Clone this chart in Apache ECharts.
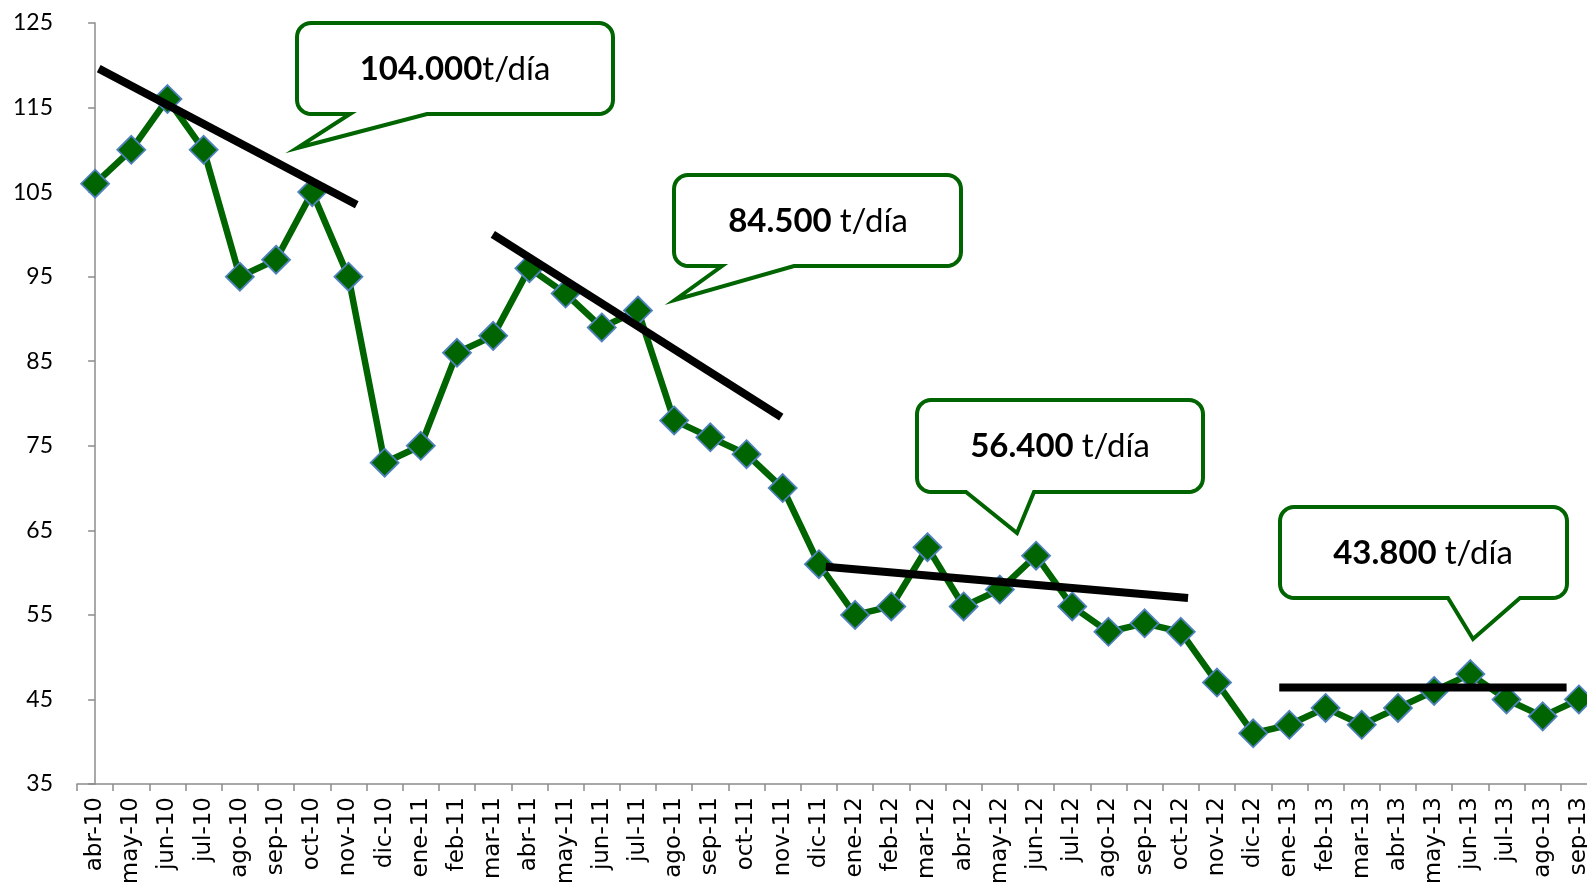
<!DOCTYPE html>
<html>
<head>
<meta charset="utf-8">
<script src="https://cdn.jsdelivr.net/npm/echarts@6/dist/echarts.min.js"></script>
<style>
  html, body { margin: 0; padding: 0; background: #fff; }
  #chart { width: 1587px; height: 882px; }
</style>
</head>
<body>
<div id="chart"></div>
<script>
  // meses (abr-10 .. sep-13)
  const months = [
    'abr-10', 'may-10', 'jun-10', 'jul-10', 'ago-10', 'sep-10', 'oct-10', 'nov-10', 'dic-10',
    'ene-11', 'feb-11', 'mar-11', 'abr-11', 'may-11', 'jun-11', 'jul-11', 'ago-11', 'sep-11', 'oct-11', 'nov-11', 'dic-11',
    'ene-12', 'feb-12', 'mar-12', 'abr-12', 'may-12', 'jun-12', 'jul-12', 'ago-12', 'sep-12', 'oct-12', 'nov-12', 'dic-12',
    'ene-13', 'feb-13', 'mar-13', 'abr-13', 'may-13', 'jun-13', 'jul-13', 'ago-13', 'sep-13'
  ];
  // produccion, miles de t/dia
  const production = [
    106, 110, 116, 110, 95, 97, 105, 95, 73,
    75, 86, 88, 96, 93, 89, 91, 78, 76, 74, 70, 61,
    55, 56, 63, 56, 58, 62, 56, 53, 54, 53, 47, 41,
    42, 44, 42, 44, 46, 48, 45, 43, 45
  ];
  const yTicks = [35, 45, 55, 65, 75, 85, 95, 105, 115, 125];

  // tendencias: [indice de mes, valor]
  const trend1 = [[0.1, 119.6], [7.23, 103.5]];
  const trend2 = [[10.99, 100.0], [18.96, 78.4]];
  const trend3 = [[20.19, 60.7], [30.2, 57.0]];
  const trend4 = [[32.72, 46.4], [40.66, 46.4]];

  const calloutBold = ['104.000', '84.500 ', '56.400 ', '43.800 '];
  const calloutUnit = 't/día';

  const green = '#006400';

  // cajas de los globos (pixeles)
  const bubbles = [
    { x0: 297, y0: 23, x1: 613, y1: 114, tl: 350, tr: 427, tip: [297, 148], tx: 455, ty: 69 },
    { x0: 674, y0: 175, x1: 961, y1: 266, tl: 722, tr: 794, tip: [675, 300], tx: 818, ty: 221 },
    { x0: 917, y0: 400, x1: 1203, y1: 492, tl: 966, tr: 1034, tip: [1017, 533], tx: 1060, ty: 446 },
    { x0: 1280, y0: 507, x1: 1567, y1: 598, tl: 1448, tr: 1520, tip: [1473, 639], tx: 1423, ty: 553 }
  ];

  function arc(cx, cy, r, a0, a1, pts) {
    for (let i = 0; i <= 8; i++) {
      const a = (a0 + (a1 - a0) * i / 8) * Math.PI / 180;
      pts.push([cx + r * Math.cos(a), cy + r * Math.sin(a)]);
    }
  }

  function bubbleShape(b) {
    const r = 14;
    const pts = [];
    arc(b.x1 - r, b.y0 + r, r, -90, 0, pts);
    arc(b.x1 - r, b.y1 - r, r, 0, 90, pts);
    pts.push([b.tr, b.y1]);
    pts.push(b.tip);
    pts.push([b.tl, b.y1]);
    arc(b.x0 + r, b.y1 - r, r, 90, 180, pts);
    arc(b.x0 + r, b.y0 + r, r, 180, 270, pts);
    return pts;
  }

  const graphics = [];
  bubbles.forEach((b, i) => {
    graphics.push({
      type: 'polygon',
      shape: { points: bubbleShape(b) },
      style: { fill: '#fff', stroke: green, lineWidth: 4 },
      z: 100
    });
    graphics.push({
      type: 'text',
      x: b.tx,
      y: b.ty,
      z: 101,
      style: {
        text: '{b|' + calloutBold[i] + '}{n|' + calloutUnit + '}',
        align: 'center',
        verticalAlign: 'middle',
        rich: {
          b: { fontFamily: 'Lato', fontWeight: 'bold', fontSize: 33, fill: '#000' },
          n: { fontFamily: 'Lato', fontSize: 33, fill: '#000' }
        }
      }
    });
  });

  function trendSeries(data) {
    return {
      type: 'line',
      xAxisIndex: 1,
      data: data,
      symbol: 'none',
      silent: true,
      z: 5,
      lineStyle: { color: '#000', width: 8, cap: 'butt' }
    };
  }

  const chart = echarts.init(document.getElementById('chart'));
  chart.setOption({
    animation: false,
    grid: { left: 77, right: -10, top: 23, bottom: 98, containLabel: false, outerBoundsMode: 'none' },
    xAxis: [{
      type: 'category',
      data: months,
      boundaryGap: true,
      axisLine: { lineStyle: { color: '#8c8c8c', width: 1.5 } },
      axisTick: { show: true, length: 7, lineStyle: { color: '#8c8c8c', width: 1.5 } },
      axisLabel: {
        interval: 0,
        rotate: 90,
        margin: 13,
        color: '#000',
        fontFamily: 'DejaVu Sans',
        fontSize: 23
      }
    }, {
      type: 'value',
      min: -0.5,
      max: 41.5,
      show: false
    }],
    yAxis: {
      type: 'value',
      min: 35,
      max: 125,
      interval: 10,
      axisLine: { show: true, lineStyle: { color: '#8c8c8c', width: 1.5 } },
      axisTick: { show: true, length: 7, customValues: yTicks, lineStyle: { color: '#8c8c8c', width: 1.5 } },
      splitLine: { show: false },
      axisLabel: {
        customValues: yTicks,
        margin: 24,
        color: '#000',
        fontFamily: 'Lato',
        fontSize: 23
      }
    },
    series: [{
      type: 'line',
      data: production,
      symbol: 'diamond',
      symbolSize: 28,
      z: 3,
      lineStyle: { color: green, width: 6.5 },
      itemStyle: { color: green, borderColor: '#4f81bd', borderWidth: 1.8 }
    },
      trendSeries(trend1),
      trendSeries(trend2),
      trendSeries(trend3),
      trendSeries(trend4)
    ],
    graphic: graphics
  });
</script>
</body>
</html>
